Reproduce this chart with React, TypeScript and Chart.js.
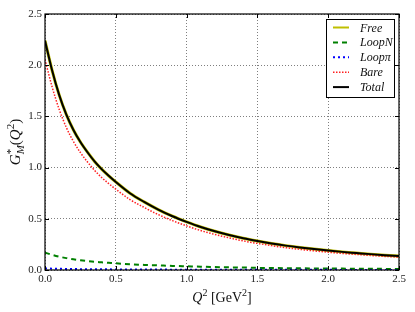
import React, { useEffect, useRef } from "react";
import { Chart, registerables } from "chart.js";

Chart.register(...registerables);

// Q^2 grid (GeV^2)
const Q2 = [0, 0.05, 0.1, 0.15, 0.2, 0.25, 0.3, 0.35, 0.4, 0.45, 0.5, 0.6, 0.7, 0.8, 0.9, 1.0, 1.1, 1.2, 1.3, 1.4, 1.5, 1.6, 1.7, 1.8, 1.9, 2.0, 2.1, 2.2, 2.3, 2.4, 2.5];
const TOTAL = [2.24, 1.95, 1.71, 1.52, 1.37, 1.25, 1.15, 1.06, 0.985, 0.92, 0.86, 0.75, 0.665, 0.59, 0.525, 0.47, 0.42, 0.378, 0.342, 0.31, 0.283, 0.259, 0.238, 0.22, 0.204, 0.19, 0.177, 0.166, 0.155, 0.145, 0.136];
const FREE = [2.24, 1.95, 1.71, 1.52, 1.37, 1.25, 1.15, 1.06, 0.985, 0.92, 0.86, 0.75, 0.665, 0.59, 0.525, 0.47, 0.42, 0.378, 0.342, 0.31, 0.283, 0.259, 0.238, 0.22, 0.204, 0.19, 0.177, 0.166, 0.155, 0.145, 0.136];
const LOOP_N = [0.17, 0.148, 0.13, 0.116, 0.104, 0.095, 0.087, 0.08, 0.075, 0.07, 0.065, 0.057, 0.05, 0.045, 0.04, 0.036, 0.032, 0.029, 0.026, 0.024, 0.021, 0.0195, 0.018, 0.0166, 0.0155, 0.0144, 0.0135, 0.0126, 0.0118, 0.011, 0.0103];
const LOOP_PI = [0.015, 0.013, 0.0115, 0.01, 0.009, 0.0085, 0.0077, 0.007, 0.0066, 0.0062, 0.0058, 0.005, 0.0045, 0.004, 0.0035, 0.0032, 0.0028, 0.0025, 0.0023, 0.0021, 0.0019, 0.0017, 0.0016, 0.0015, 0.0014, 0.0013, 0.0012, 0.0011, 0.001, 0.001, 0.0009];
const BARE = [2.055, 1.789, 1.569, 1.394, 1.257, 1.147, 1.055, 0.973, 0.903, 0.844, 0.789, 0.688, 0.611, 0.541, 0.482, 0.431, 0.385, 0.347, 0.314, 0.284, 0.26, 0.238, 0.218, 0.202, 0.187, 0.174, 0.162, 0.152, 0.142, 0.133, 0.125];

const X_TICKS = [0, 0.5, 1.0, 1.5, 2.0, 2.5];
const Y_TICKS = [0, 0.5, 1.0, 1.5, 2.0, 2.5];

const SERIF = "'Liberation Serif', 'DejaVu Serif', serif";

type Seg = { t: string; it?: boolean; pos?: "sup" | "sub"; stack?: boolean };

function richWidth(ctx: CanvasRenderingContext2D, segs: Seg[], size: number) {
  let w = 0;
  let pending = 0;
  for (const s of segs) {
    ctx.font = fontFor(s, size);
    const sw = ctx.measureText(s.t).width;
    if (s.stack) {
      pending = Math.max(pending, sw);
    } else {
      w += Math.max(pending, sw);
      pending = 0;
    }
  }
  return w + pending;
}

function fontFor(s: Seg, size: number) {
  const sz = s.pos ? Math.round(size * 0.7) : size;
  return `${s.it ? "italic " : ""}${sz}px ${SERIF}`;
}

function drawRich(ctx: CanvasRenderingContext2D, segs: Seg[], x: number, y: number, size: number, align: "center" | "left") {
  const w = richWidth(ctx, segs, size);
  let cx = align === "center" ? x - w / 2 : x;
  ctx.textBaseline = "alphabetic";
  ctx.textAlign = "left";
  let pending = 0;
  for (const s of segs) {
    ctx.font = fontFor(s, size);
    const sw = ctx.measureText(s.t).width;
    const dy = s.pos === "sup" ? -size * 0.4 : s.pos === "sub" ? size * 0.28 : 0;
    ctx.fillText(s.t, cx, y + dy);
    if (s.stack) {
      pending = Math.max(pending, sw);
    } else {
      cx += Math.max(pending, sw);
      pending = 0;
    }
  }
}

type LegendItem = { segs: Seg[]; color: string; dash: number[]; width: number };
const LEGEND_ITEMS: LegendItem[] = [
  { segs: [{ t: "Free", it: true }], color: "#bfbf00", dash: [], width: 2 },
  { segs: [{ t: "LoopN", it: true }], color: "#008000", dash: [5, 4], width: 2 },
  { segs: [{ t: "Loopπ", it: true }], color: "#0000ff", dash: [2, 3], width: 2 },
  { segs: [{ t: "Bare", it: true }], color: "#ff2020", dash: [1.5, 1.5], width: 1.5 },
  { segs: [{ t: "Total", it: true }], color: "#000000", dash: [], width: 2 },
];

const decorPlugin = {
  id: "decor",
  afterDraw(chart: any) {
    const ctx: CanvasRenderingContext2D = chart.ctx;
    const { left, right, top, bottom } = chart.chartArea;
    const xs = chart.scales.x;
    const ys = chart.scales.y;
    ctx.save();
    // frame
    ctx.strokeStyle = "#000";
    ctx.lineWidth = 1.2;
    ctx.setLineDash([]);
    ctx.strokeRect(left, top, right - left, bottom - top);
    // inward ticks
    ctx.lineWidth = 1;
    const tl = 4;
    for (const v of X_TICKS) {
      const px = Math.round(xs.getPixelForValue(v)) + 0.5;
      ctx.beginPath();
      ctx.moveTo(px, bottom);
      ctx.lineTo(px, bottom - tl);
      ctx.moveTo(px, top);
      ctx.lineTo(px, top + tl);
      ctx.stroke();
    }
    for (const v of Y_TICKS) {
      const py = Math.round(ys.getPixelForValue(v)) + 0.5;
      ctx.beginPath();
      ctx.moveTo(left, py);
      ctx.lineTo(left + tl, py);
      ctx.moveTo(right, py);
      ctx.lineTo(right - tl, py);
      ctx.stroke();
    }
    // axis titles
    ctx.fillStyle = "#111";
    drawRich(
      ctx,
      [{ t: "Q", it: true }, { t: "2", pos: "sup" }, { t: " [GeV" }, { t: "2", pos: "sup" }, { t: "]" }],
      (left + right) / 2,
      302,
      14,
      "center"
    );
    ctx.save();
    ctx.translate(20, (top + bottom) / 2 + 0);
    ctx.rotate(-Math.PI / 2);
    drawRich(
      ctx,
      [
        { t: "G", it: true },
        { t: "*", pos: "sup", stack: true },
        { t: "M", it: true, pos: "sub" },
        { t: "(" },
        { t: "Q", it: true },
        { t: "2", pos: "sup" },
        { t: ")" },
      ],
      0,
      0,
      15,
      "center"
    );
    ctx.restore();
    // legend
    const lx = 326.5, ly = 19.5, lw = 68, lh = 78;
    ctx.fillStyle = "#fff";
    ctx.fillRect(lx, ly, lw, lh);
    ctx.strokeStyle = "#000";
    ctx.lineWidth = 1;
    ctx.strokeRect(lx, ly, lw, lh);
    LEGEND_ITEMS.forEach((it, i) => {
      const cy = 27.5 + i * 14.9;
      ctx.strokeStyle = it.color;
      ctx.lineWidth = it.width;
      ctx.setLineDash(it.dash);
      ctx.beginPath();
      ctx.moveTo(333, cy);
      ctx.lineTo(349, cy);
      ctx.stroke();
      ctx.setLineDash([]);
      ctx.fillStyle = "#111";
      drawRich(ctx, it.segs, 360, cy + 4, 12, "left");
    });
    ctx.restore();
  },
};

function pts(ys: number[]) {
  return Q2.map((x, i) => ({ x, y: ys[i] }));
}

export default function App() {
  const ref = useRef<HTMLCanvasElement | null>(null);
  useEffect(() => {
    if (!ref.current) return;
    const tickFont = { family: SERIF, size: 11 };
    const chart = new Chart(ref.current, {
      type: "line",
      data: {
        datasets: [
          { label: "Total", data: pts(TOTAL), borderColor: "#000000", borderWidth: 2, order: 0 },
          { label: "Bare", data: pts(BARE), borderColor: "#ff2020", borderWidth: 1.5, borderDash: [1.5, 1.5], order: 1 },
          { label: "Loopπ", data: pts(LOOP_PI), borderColor: "#0000ff", borderWidth: 2, borderDash: [2, 3], order: 2 },
          { label: "LoopN", data: pts(LOOP_N), borderColor: "#008000", borderWidth: 2, borderDash: [5, 4], order: 3 },
          { label: "Free", data: pts(FREE), borderColor: "#bfbf00", borderWidth: 3, order: 4 },
        ] as any,
      },
      options: {
        animation: false,
        responsive: false,
        layout: { padding: { top: 14, right: 16, left: 0, bottom: 0 } },
        elements: {
          point: { radius: 0 },
          line: { cubicInterpolationMode: "monotone", fill: false },
        },
        plugins: { legend: { display: false }, tooltip: { enabled: false } },
        scales: {
          x: {
            type: "linear",
            min: 0,
            max: 2.5,
            afterBuildTicks: (s: any) => {
              s.ticks = X_TICKS.map((v) => ({ value: v }));
            },
            afterFit: (s: any) => {
              s.height = 42;
            },
            ticks: {
              font: tickFont,
              color: "#222",
              padding: 3,
              maxRotation: 0,
              autoSkip: false,
              callback: (v: any) => Number(v).toFixed(1),
            },
            grid: { color: "rgba(0,0,0,0.5)", lineWidth: 1, drawTicks: false },
            border: { display: false, dash: [1, 2] },
          },
          y: {
            type: "linear",
            min: 0,
            max: 2.5,
            afterBuildTicks: (s: any) => {
              s.ticks = Y_TICKS.map((v) => ({ value: v }));
            },
            afterFit: (s: any) => {
              s.width = 45;
            },
            ticks: {
              font: tickFont,
              color: "#222",
              padding: 3,
              autoSkip: false,
              callback: (v: any) => Number(v).toFixed(1),
            },
            grid: { color: "rgba(0,0,0,0.5)", lineWidth: 1, drawTicks: false },
            border: { display: false, dash: [1, 2] },
          },
        },
      } as any,
      plugins: [decorPlugin],
    });
    return () => chart.destroy();
  }, []);
  return (
    <div style={{ position: "fixed", left: 0, top: 0, width: 415, height: 312, background: "#fff" }}>
      <canvas ref={ref} width={415} height={312} style={{ width: 415, height: 312, display: "block" }} />
    </div>
  );
}
